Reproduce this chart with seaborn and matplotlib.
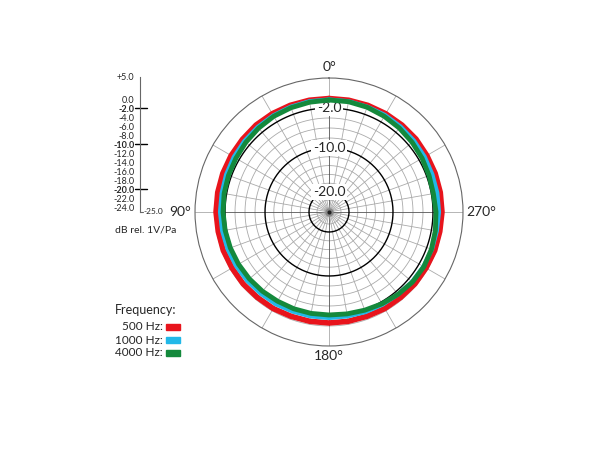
import numpy as np
import pandas as pd
import matplotlib
matplotlib.use("Agg")
import matplotlib.pyplot as plt
import seaborn as sns

# polar response, dB rel. 1V/Pa, every 10 degrees (0 = front, counter-clockwise)
angles_deg = list(range(0, 360, 10))
resp_500 = [-0.1, -0.1, -0.1, -0.1, -0.1, -0.2, -0.2, -0.2, -0.2, -0.2,
            -0.3, -0.3, -0.4, -0.4, -0.5, -0.5, -0.6, -0.6, -0.6, -0.6,
            -0.6, -0.5, -0.5, -0.4, -0.4, -0.3, -0.3, -0.2, -0.2, -0.2,
            -0.2, -0.1, -0.1, -0.1, -0.1, -0.1]
resp_1000 = [-0.3, -0.3, -0.4, -0.5, -0.6, -0.7, -0.8, -0.9, -1.0, -1.0,
             -1.1, -1.2, -1.3, -1.4, -1.5, -1.5, -1.6, -1.6, -1.6, -1.6,
             -1.5, -1.4, -1.3, -1.1, -1.0, -0.9, -0.9, -0.8, -0.8, -0.8,
             -0.7, -0.6, -0.5, -0.4, -0.4, -0.3]
resp_4000 = [-0.4, -0.5, -0.6, -0.7, -0.9, -1.1, -1.3, -1.4, -1.5, -1.6,
             -1.7, -1.8, -1.9, -2.0, -2.1, -2.2, -2.2, -2.2, -2.2, -2.1,
             -1.9, -1.6, -1.3, -1.0, -0.9, -1.0, -1.2, -1.4, -1.6, -1.5,
             -1.3, -1.1, -0.9, -0.7, -0.5, -0.4]
freq_labels = ["500 Hz:", "1000 Hz:", "4000 Hz:"]
colors = ["#e8141c", "#22b8e8", "#14893c"]
widths = [4.0, 3.0, 3.5]
scale_ticks = [5, 0, -2, -4, -6, -8, -10, -12, -14, -16, -18, -20, -22, -24]
bold_ticks = [-2, -10, -20]

# chart's radial scale is not linear in dB
db_knots = [-25, -20, -10, -2, 0, 5]
r_knots = [0, 20, 64, 104, 114, 134]


def to_r(db):
    return np.interp(db, db_knots, r_knots)


sns.set_style("white")
plt.rcParams["font.family"] = ["Lato", "DejaVu Sans"]

fig = plt.figure(figsize=(6.1, 4.5), dpi=100)
ax = fig.add_axes([0.3197, 0.2311, 0.4393, 0.5956], projection="polar")
ax.set_theta_zero_location("N")
ax.set_theta_direction(1)
ax.set_ylim(0, 134)
ax.grid(False)
ax.set_xticks([])
ax.set_yticks([])
ax.spines["polar"].set_color("#666666")
ax.spines["polar"].set_linewidth(0.8)

t = np.linspace(0, 2 * np.pi, 300)
for r in range(-24, 1, 2):
    if r in bold_ticks:
        continue
    ax.plot(t, [to_r(r)] * 300, color="#aaaaaa", lw=0.6, zorder=1)
for r in bold_ticks:
    ax.plot(t, [to_r(r)] * 300, color="black", lw=1.0, zorder=2)
for a in range(0, 360, 10):
    c = "#555555" if a % 90 == 0 else "#aaaaaa"
    ax.plot([np.radians(a)] * 2, [0, to_r(0)], color=c, lw=0.6, zorder=1)
for a in range(0, 360, 30):
    ax.plot([np.radians(a)] * 2, [to_r(0), 134], color="#aaaaaa", lw=0.6, zorder=1)
ax.plot([0], [0], "o", color="#888888", ms=5, zorder=3)
ax.plot([0], [0], "o", color="#222222", ms=2, zorder=3)

for vals, col, lw in zip([resp_500, resp_1000, resp_4000], colors, widths):
    df = pd.DataFrame({"theta": np.radians(angles_deg + [360]),
                       "r": to_r(np.array(vals + [vals[0]]))})
    sns.lineplot(data=df, x="theta", y="r", ax=ax, color=col, lw=lw, sort=False,
                 estimator=None, zorder=5)
ax.set_xlabel("")
ax.set_ylabel("")
ax.set_ylim(0, 134)

for r in bold_ticks:
    ax.text(0, to_r(r), f"{r:.1f}", ha="center", va="center", fontsize=10,
            bbox=dict(facecolor="white", edgecolor="none", pad=1.5), zorder=4)

ax.text(0, 145, "0°", ha="center", va="center", fontsize=10)
ax.text(np.pi / 2, 149, "90°", ha="center", va="center", fontsize=10)
ax.text(np.pi, 144, "180°", ha="center", va="center", fontsize=10)
ax.text(3 * np.pi / 2, 152, "270°", ha="center", va="center", fontsize=10)

# dB scale
sax = fig.add_axes([140 / 610, 1 - 212 / 450, 0.03, 135 / 450])
sax.set_ylim(-25, 5)
sax.set_xlim(0, 1)
for s in ["top", "right", "bottom"]:
    sax.spines[s].set_visible(False)
sax.spines["left"].set_color("#666666")
sax.spines["left"].set_linewidth(0.8)
sax.set_xticks([])
sax.set_yticks(scale_ticks)
sax.set_yticklabels([("+5.0" if v == 5 else f"{v:.1f}") for v in scale_ticks], fontsize=6.5)
sax.tick_params(axis="y", length=3, width=0.6, color="#666666", pad=1)
for v, lbl in zip(scale_ticks, sax.get_yticklabels()):
    if v in bold_ticks:
        lbl.set_fontweight("bold")
        sax.plot([-0.3, 0.4], [v, v], color="black", lw=1, clip_on=False)
sax.plot([0, 0.15], [-25, -25], color="#666666", lw=0.8, clip_on=False)
sax.text(0.2, -25, "-25.0", fontsize=6, va="center", ha="left")
fig.text(115 / 610, 1 - 230 / 450, "dB rel. 1V/Pa", fontsize=7.5, va="center")

# legend
fig.text(115 / 610, 1 - 310 / 450, "Frequency:", fontsize=9, va="center")
for i, (lab, col) in enumerate(zip(freq_labels, colors)):
    y = 1 - (327 + i * 13) / 450
    fig.text(163 / 610, y, lab, fontsize=8.5, ha="right", va="center")
    fig.patches.append(plt.Rectangle((166 / 610, y - 3 / 450), 14 / 610, 6 / 450,
                                     transform=fig.transFigure, color=col))

fig.savefig("out.png", dpi=100)
